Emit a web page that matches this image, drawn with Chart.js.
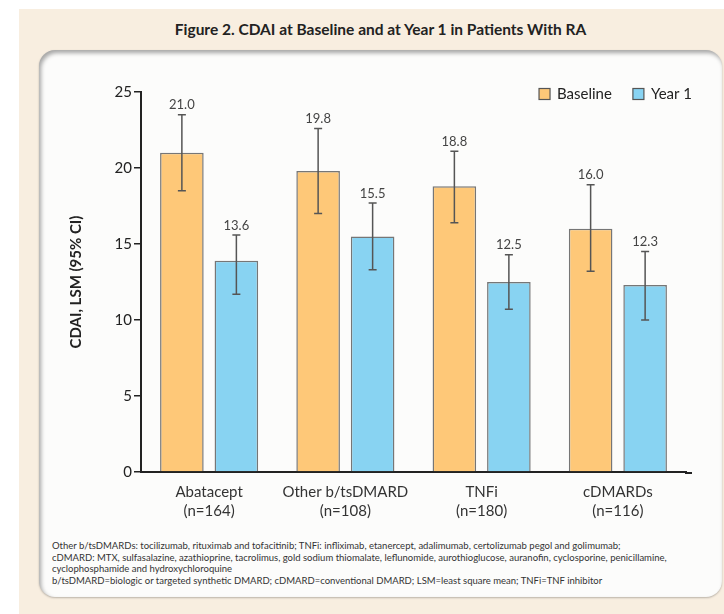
<!DOCTYPE html>
<html>
<head>
<meta charset="utf-8">
<script src="https://cdn.jsdelivr.net/npm/chart.js@4"></script>
<style>
  html, body { margin: 0; padding: 0; background: #fff; }
  body { width: 724px; height: 614px; position: relative; overflow: hidden; font-family: Lato, "Open Sans", sans-serif; }
  .panel { position: absolute; left: 19px; top: 9px; width: 705px; height: 605px; background: #f8eee0; }
  .fig-title { position: absolute; left: 39px; width: 683px; top: 20px; text-align: center; font-weight: bold; font-size: 15.5px; color: #222; }
  .box { position: absolute; left: 39px; top: 50px; width: 683px; height: 547px; border-radius: 16px; background: #fcfcfb;
         box-shadow: inset 2px 3px 4px rgba(0,0,0,0.35), 0 1px 2px rgba(0,0,0,0.25); }
  #chart { position: absolute; left: 0; top: 0; }
  .notes { position: absolute; left: 13px; top: 490px; width: 660px; font-size: 9.5px; line-height: 11.7px; color: #333; }
</style>
</head>
<body>
<div class="panel"></div>
<div class="fig-title">Figure 2. CDAI at Baseline and at Year 1 in Patients With RA</div>
<div class="box">
  <canvas id="chart" width="683" height="480"></canvas>
  <div class="notes">
    Other b/tsDMARDs: tocilizumab, rituximab and tofacitinib; TNFi: infliximab, etanercept, adalimumab, certolizumab pegol and golimumab;<br>
    cDMARD: MTX, sulfasalazine, azathioprine, tacrolimus, gold sodium thiomalate, leflunomide, aurothioglucose, auranofin, cyclosporine, penicillamine,<br>
    cyclophosphamide and hydroxychloroquine<br>
    b/tsDMARD=biologic or targeted synthetic DMARD; cDMARD=conventional DMARD; LSM=least square mean; TNFi=TNF inhibitor
  </div>
</div>
<script>
// groups on the x axis (two-line labels)
const categories = [
    ['Abatacept', '(n=164)'],
    ['Other b/tsDMARD', '(n=108)'],
    ['TNFi', '(n=180)'],
    ['cDMARDs', '(n=116)']
];

// bar heights as drawn, with 95% CI ends
const baseline = [21.0, 19.8, 18.8, 16.0];
const baselineLow = [18.5, 17.0, 16.4, 13.2];
const baselineHigh = [23.5, 22.6, 21.1, 18.9];
const year1 = [13.9, 15.5, 12.5, 12.3];
const year1Low = [11.7, 13.3, 10.7, 10.0];
const year1High = [15.6, 17.7, 14.3, 14.5];

// printed value labels
const baselineLabels = ['21.0', '19.8', '18.8', '16.0'];
const year1Labels = ['13.6', '15.5', '12.5', '12.3'];

const yTicks = [0, 5, 10, 15, 20, 25];

Chart.defaults.font.family = 'Lato, "Open Sans", sans-serif';

// error bars + value labels on top of each bar
const errorBars = {
    id: 'errorBars',
    afterDatasetsDraw(chart) {
        const ctx = chart.ctx;
        const y = chart.scales.y;
        chart.data.datasets.forEach((ds, i) => {
            const meta = chart.getDatasetMeta(i);
            meta.data.forEach((bar, j) => {
                const top = y.getPixelForValue(ds.hi[j]);
                const bot = y.getPixelForValue(ds.lo[j]);
                ctx.save();
                ctx.strokeStyle = '#555';
                ctx.lineWidth = 1.5;
                ctx.beginPath();
                ctx.moveTo(bar.x, top); ctx.lineTo(bar.x, bot);
                ctx.moveTo(bar.x - 4, top); ctx.lineTo(bar.x + 4, top);
                ctx.moveTo(bar.x - 4, bot); ctx.lineTo(bar.x + 4, bot);
                ctx.stroke();
                ctx.fillStyle = '#444';
                ctx.font = '13px Lato, "Open Sans", sans-serif';
                ctx.textAlign = 'center';
                ctx.textBaseline = 'bottom';
                ctx.fillText(ds.valueLabels[j], bar.x, top - 3);
                ctx.restore();
            });
        });
        // the x axis line runs a little past the last group
        const area = chart.chartArea;
        ctx.save();
        ctx.strokeStyle = '#222';
        ctx.lineWidth = 2;
        ctx.beginPath();
        ctx.moveTo(area.right - 1, area.bottom + 1);
        ctx.lineTo(area.right + 6, area.bottom + 1);
        ctx.stroke();
        ctx.restore();
    }
};

// legend in the top-right corner of the plot
const cornerLegend = {
    id: 'cornerLegend',
    afterDraw(chart) {
        const ctx = chart.ctx;
        const sets = chart.data.datasets;
        const cy = chart.chartArea.top + 2;
        ctx.save();
        ctx.font = '15px Lato, "Open Sans", sans-serif';
        ctx.textBaseline = 'middle';
        ctx.textAlign = 'left';
        let x = chart.chartArea.right + 6;
        for (let i = sets.length - 1; i >= 0; i--) {
            const w = ctx.measureText(sets[i].label).width;
            x -= w;
            ctx.fillStyle = '#222';
            ctx.fillText(sets[i].label, x, cy);
            x -= 7 + 11;
            ctx.fillStyle = sets[i].backgroundColor;
            ctx.fillRect(x, cy - 5.5, 11, 11);
            ctx.strokeStyle = '#555';
            ctx.lineWidth = 1.2;
            ctx.strokeRect(x, cy - 5.5, 11, 11);
            x -= 21;
        }
        ctx.restore();
    }
};

const ctx = document.getElementById('chart').getContext('2d');
const myChart = new Chart(ctx, {
    type: 'bar',
    data: {
        labels: categories,
        datasets: [{
            label: 'Baseline',
            data: baseline,
            lo: baselineLow,
            hi: baselineHigh,
            valueLabels: baselineLabels,
            backgroundColor: '#fec878',
            borderColor: '#767676',
            borderWidth: 1.5,
            barPercentage: 0.8
        }, {
            label: 'Year 1',
            data: year1,
            lo: year1Low,
            hi: year1High,
            valueLabels: year1Labels,
            backgroundColor: '#88d3f2',
            borderColor: '#767676',
            borderWidth: 1.5,
            barPercentage: 0.8
        }]
    },
    options: {
        responsive: false,
        animation: false,
        layout: { padding: { left: 24, right: 36, top: 42, bottom: 0 } },
        plugins: {
            legend: { display: false },
            tooltip: { enabled: false }
        },
        scales: {
            x: {
                grid: { drawOnChartArea: false, drawTicks: false },
                border: { color: '#222', width: 2 },
                ticks: { color: '#333', font: { size: 15, lineHeight: 1.3 }, padding: 10 },
                afterFit(scale) { scale.height = 58; }
            },
            y: {
                min: 0,
                max: 25,
                afterBuildTicks(scale) { scale.ticks = yTicks.map(v => ({ value: v })); },
                grid: { drawOnChartArea: false, drawTicks: true, tickLength: 7, color: '#222', lineWidth: 1.5 },
                border: { color: '#222', width: 2 },
                ticks: { color: '#222', font: { size: 15 }, padding: 2 },
                title: { display: true, text: 'CDAI, LSM (95% CI)', color: '#222', font: { size: 15, weight: 'bold' } },
                afterFit(scale) { scale.width = 78; }
            }
        }
    },
    plugins: [errorBars, cornerLegend]
});
</script>
</body>
</html>
